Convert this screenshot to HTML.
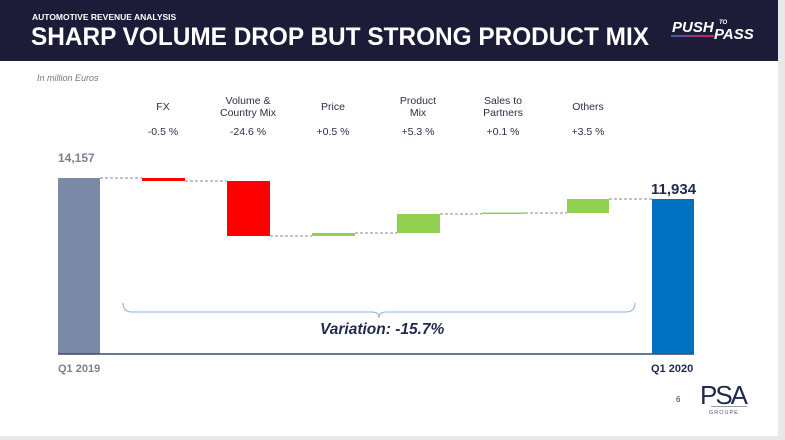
<!DOCTYPE html>
<html><head><meta charset="utf-8"><style>
body{margin:0;width:785px;height:440px;background:#e8e8e8;position:relative;overflow:hidden;font-family:"Liberation Sans",sans-serif}
.pg{position:absolute;left:0;top:0;width:778px;height:436px;background:#fff}
.hd{position:absolute;left:0;top:0;width:778px;height:61px;background:#1c1c38}
.t{position:absolute;white-space:nowrap}
.b{position:absolute}
.cat{position:absolute;width:90px;text-align:center;font-size:10.5px;color:#2a2f4a;line-height:12px}
</style></head><body>
<div class="pg"></div>
<div class="hd"></div>
<div class="t" style="left:32px;top:12px;font-size:8.5px;font-weight:bold;color:#fff">AUTOMOTIVE REVENUE ANALYSIS</div>
<div class="t" style="left:31px;top:23px;font-size:25px;font-weight:bold;color:#fff;transform:scaleX(0.975);transform-origin:left">SHARP VOLUME DROP BUT STRONG PRODUCT MIX</div>
<div class="t" style="left:672px;top:19px;font-size:15px;font-weight:bold;font-style:italic;color:#fff">PUSH</div>
<div class="t" style="left:719px;top:20px;font-size:6px;font-weight:bold;font-style:italic;color:#fff">TO</div>
<div class="t" style="left:714px;top:26px;font-size:15px;font-weight:bold;font-style:italic;color:#fff">PASS</div>
<div class="b" style="left:671px;top:35px;width:43px;height:2px;background:linear-gradient(90deg,#3a5fa8,#e0185a)"></div>
<div class="t" style="left:37px;top:73px;font-size:9px;font-style:italic;color:#777">In million Euros</div>

<div class="cat" style="left:118px;top:101px">FX</div>
<div class="cat" style="left:203px;top:95px">Volume &amp;<br>Country Mix</div>
<div class="cat" style="left:288px;top:101px">Price</div>
<div class="cat" style="left:373px;top:95px">Product<br>Mix</div>
<div class="cat" style="left:458px;top:95px">Sales to<br>Partners</div>
<div class="cat" style="left:543px;top:101px">Others</div>
<div class="cat" style="left:118px;top:126px">-0.5 %</div>
<div class="cat" style="left:203px;top:126px">-24.6 %</div>
<div class="cat" style="left:288px;top:126px">+0.5 %</div>
<div class="cat" style="left:373px;top:126px">+5.3 %</div>
<div class="cat" style="left:458px;top:126px">+0.1 %</div>
<div class="cat" style="left:543px;top:126px">+3.5 %</div>

<svg class="b" style="left:0;top:0" width="785" height="440">
<g stroke="#888" stroke-width="1" stroke-dasharray="3,2">
<line x1="100" y1="178" x2="142" y2="178"/>
<line x1="185" y1="181" x2="227" y2="181"/>
<line x1="270" y1="236" x2="312" y2="236"/>
<line x1="355" y1="233" x2="397" y2="233"/>
<line x1="440" y1="214" x2="482" y2="214"/>
<line x1="525" y1="213" x2="567" y2="213"/>
<line x1="609" y1="199" x2="652" y2="199"/>
</g>
<rect x="58" y="178" width="42" height="176" fill="#7a89a5"/>
<rect x="142" y="178" width="43" height="3" fill="#ff0000"/>
<rect x="227" y="181" width="43" height="55" fill="#ff0000"/>
<rect x="312" y="233" width="43" height="3" fill="#92d050"/>
<rect x="397" y="214" width="43" height="19" fill="#92d050"/>
<rect x="482" y="212.5" width="43" height="1.5" fill="#92d050"/>
<rect x="567" y="199" width="42" height="14" fill="#92d050"/>
<rect x="652" y="199" width="42" height="155" fill="#0070c0"/>
<line x1="58" y1="354" x2="694" y2="354" stroke="#3a4a6a" stroke-width="1.5"/>
<path d="M123 303 Q123 312 132 312 L372 312 Q379 312 379 318 Q379 312 386 312 L626 312 Q635 312 635 303" fill="none" stroke="#8fb0d8" stroke-width="1"/>
</svg>
<div class="t" style="left:58px;top:151px;font-size:12px;font-weight:bold;color:#7a8090">14,157</div>
<div class="t" style="left:651px;top:181px;font-size:15px;font-weight:bold;color:#1f2a50">11,934</div>
<div class="t" style="left:320px;top:321px;font-size:15.5px;font-weight:bold;font-style:italic;color:#1f2a50">Variation: -15.7%</div>
<div class="t" style="left:58px;top:363px;font-size:11px;font-weight:bold;color:#7a8090">Q1 2019</div>
<div class="t" style="left:651px;top:363px;font-size:11px;font-weight:bold;color:#1f2a50">Q1 2020</div>
<div class="t" style="left:676px;top:395px;font-size:8px;color:#333">6</div>
<div class="t" style="left:700px;top:380px;font-size:26px;color:#1f2a50;letter-spacing:-2px">PSA</div>
<div class="b" style="left:711px;top:406px;width:36px;height:1px;background:#99a"></div>
<div class="t" style="left:709px;top:410px;font-size:5.5px;color:#556;letter-spacing:1px">GROUPE</div>
</body></html>
